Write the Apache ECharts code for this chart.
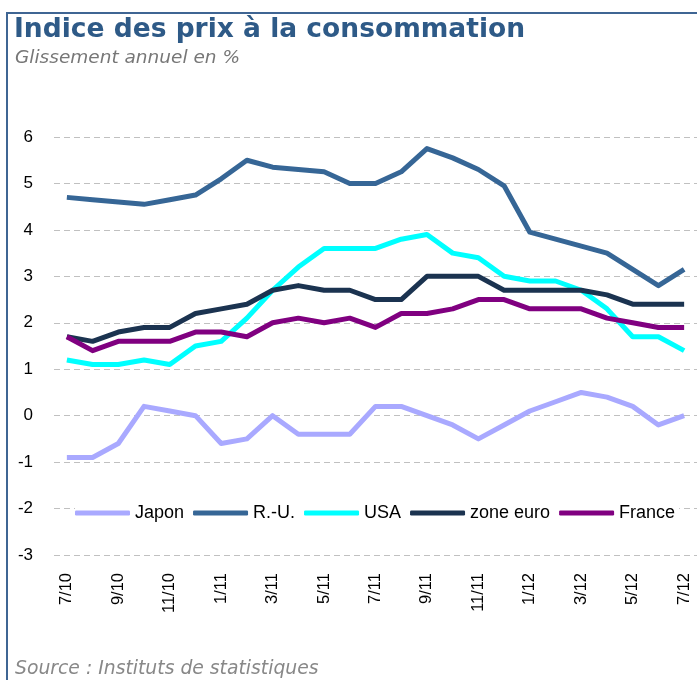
<!DOCTYPE html>
<html><head><meta charset="utf-8">
<script src="https://cdn.jsdelivr.net/npm/echarts@6/dist/echarts.min.js"></script>
<style>html,body{margin:0;padding:0;background:#fff}#c{width:697px;height:680px}</style>
</head><body><div id="c"></div>
<script>
const months = ['7/10','8/10','9/10','10/10','11/10','12/10','1/11','2/11','3/11','4/11','5/11','6/11','7/11','8/11','9/11','10/11','11/11','12/11','1/12','2/12','3/12','4/12','5/12','6/12','7/12'];
const japon = [-0.9,-0.9,-0.6,0.2,0.1,0.0,-0.6,-0.5,0.0,-0.4,-0.4,-0.4,0.2,0.2,0.0,-0.2,-0.5,-0.2,0.1,0.3,0.5,0.4,0.2,-0.2,0.0];
const ru = [4.7,4.65,4.6,4.55,4.65,4.75,5.1,5.5,5.35,5.3,5.25,5.0,5.0,5.25,5.75,5.55,5.3,4.95,3.95,3.8,3.65,3.5,3.15,2.8,3.15];
const usa = [1.2,1.1,1.1,1.2,1.1,1.5,1.6,2.1,2.7,3.2,3.6,3.6,3.6,3.8,3.9,3.5,3.4,3.0,2.9,2.9,2.7,2.3,1.7,1.7,1.4];
const zoneEuro = [1.7,1.6,1.8,1.9,1.9,2.2,2.3,2.4,2.7,2.8,2.7,2.7,2.5,2.5,3.0,3.0,3.0,2.7,2.7,2.7,2.7,2.6,2.4,2.4,2.4];
const france = [1.7,1.4,1.6,1.6,1.6,1.8,1.8,1.7,2.0,2.1,2.0,2.1,1.9,2.2,2.2,2.3,2.5,2.5,2.3,2.3,2.3,2.1,2.0,1.9,1.9];
const seriesNames = ['Japon','R.-U.','USA','zone euro','France'];
const seriesData = [japon, ru, usa, zoneEuro, france];
const colors = ['#a9a9ff','#366696','#00ffff','#1b3350','#800080'];

const chart = echarts.init(document.getElementById('c'), null, {renderer:'canvas'});
chart.setOption({
  animation:false,
  backgroundColor:'#fff',
  title:[
    {text:'Indice des prix à la consommation', left:9, top:12,
     textStyle:{fontFamily:'DejaVu Sans', fontWeight:'bold', fontSize:26.5, color:'#2e5a87'}},
    {text:'Glissement annuel en %', left:10, top:44,
     textStyle:{fontFamily:'DejaVu Sans', fontStyle:'italic', fontWeight:'normal', fontSize:18.5, color:'#777'}},
    {text:'Source : Instituts de statistiques', left:10, top:655,
     textStyle:{fontFamily:'DejaVu Sans', fontStyle:'italic', fontWeight:'normal', fontSize:18.8, color:'#888'}}
  ],
  graphic:[
    {type:'line', shape:{x1:7, y1:13, x2:697, y2:13}, style:{stroke:'#3f6593', lineWidth:2}},
    {type:'line', shape:{x1:7, y1:12, x2:7, y2:680}, style:{stroke:'#3f6593', lineWidth:2}}
  ],
  color: colors,
  legend:{
    data: seriesNames, left:75, top:502, itemWidth:55, itemHeight:5, itemGap:9,
    icon:'roundRect', backgroundColor:'#fff', padding:[2,4,2,0],
    textStyle:{fontFamily:'Liberation Sans', fontSize:18, color:'#000'}
  },
  grid:{left:54, right:0, top:137, bottom:125, containLabel:false},
  xAxis:{
    type:'category', data:months, boundaryGap:true,
    axisLine:{show:false}, axisTick:{show:false},
    axisLabel:{interval:1, rotate:90, margin:18, fontFamily:'Liberation Sans', fontSize:16.5, color:'#000'}
  },
  yAxis:{
    type:'value', min:-3, max:6, interval:1,
    axisLine:{show:false}, axisTick:{show:false},
    axisLabel:{margin:21, fontFamily:'Liberation Sans', fontSize:17, color:'#000'},
    splitLine:{lineStyle:{color:'#c0c0c0', type:[6,4], width:1}}
  },
  series: seriesNames.map((n,i)=>({
    name:n, type:'line', data:seriesData[i], symbol:'none',
    lineStyle:{width:5, color:colors[i], join:'round'}, itemStyle:{color:colors[i]}
  }))
});
</script></body></html>
